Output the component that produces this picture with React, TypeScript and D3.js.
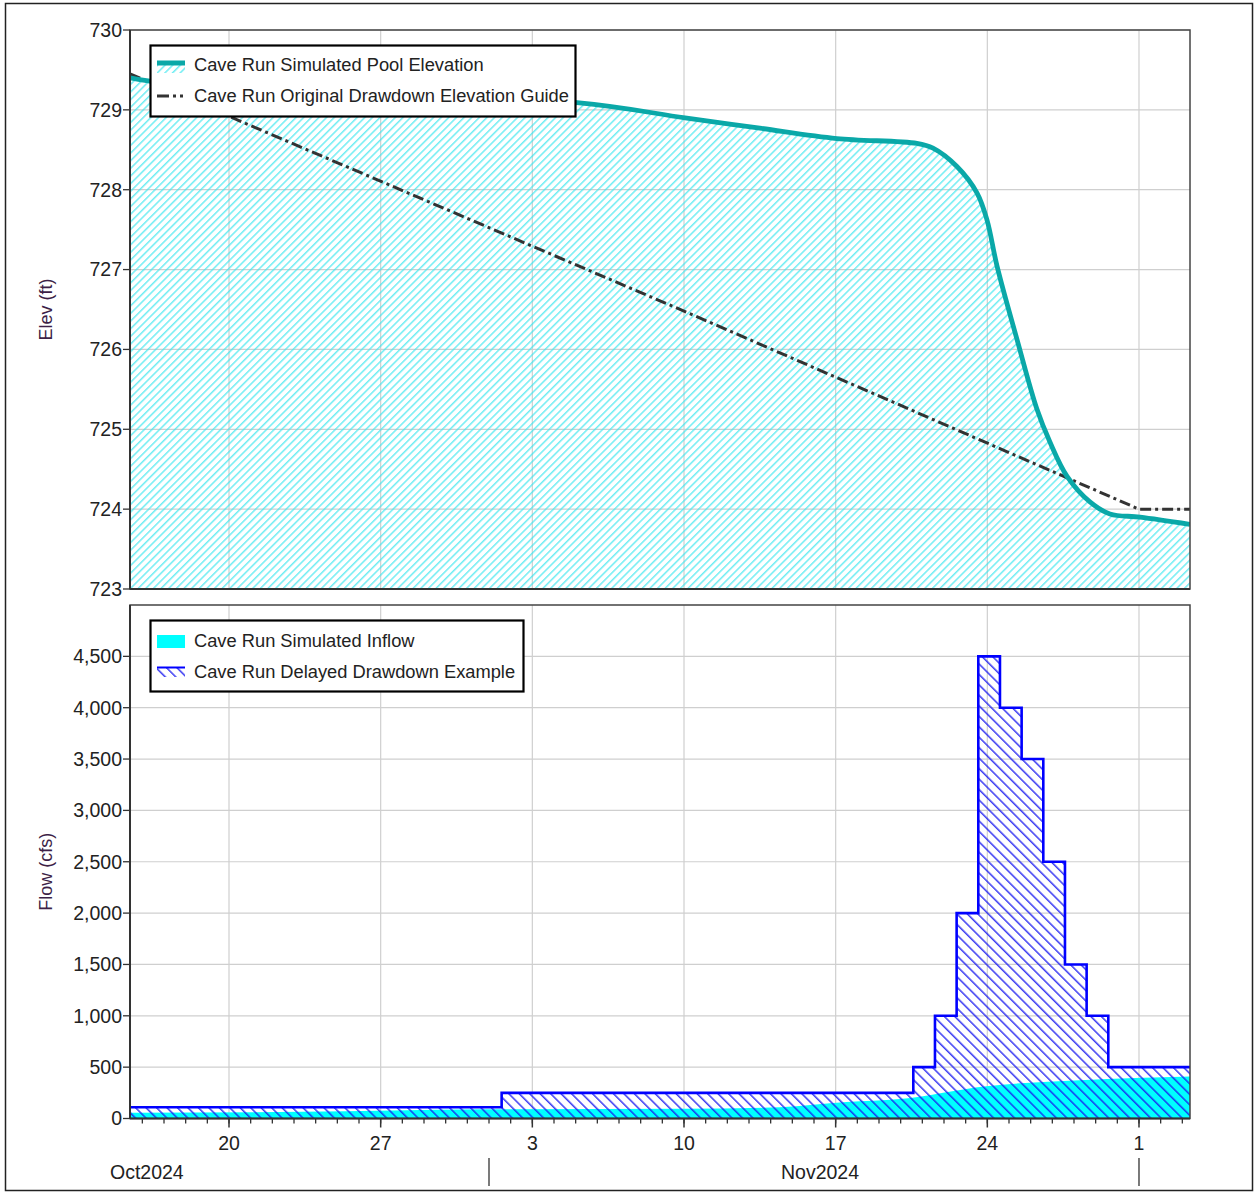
import React from 'react';
import * as d3 from 'd3';

const parse = d3.timeParse('%Y-%m-%dT%H:%M');

const xDomainDates = ['2024-10-15T10:20', '2024-12-03T08:30'];

const poolDates = [
  '2024-10-15T10:20', '2024-10-16T08:30', '2024-11-05T01:30', '2024-11-10T01:10',
  '2024-11-13T12:00', '2024-11-17T01:30', '2024-11-20T18:00', '2024-11-21T11:50',
  '2024-11-22T14:20', '2024-11-23T12:30', '2024-11-23T23:40', '2024-11-24T10:50',
  '2024-11-25T09:00', '2024-11-26T07:00', '2024-11-26T21:20', '2024-11-27T16:20',
  '2024-11-28T17:40', '2024-11-29T15:50', '2024-12-01T01:10', '2024-12-03T08:30',
];
const poolElev = [
  729.40, 729.36, 729.09, 728.90,
  728.77, 728.64, 728.58, 728.52,
  728.29, 727.96, 727.62, 727.04,
  726.12, 725.25, 724.84, 724.41,
  724.09, 723.94, 723.90, 723.81,
];

const guideDates = ['2024-10-15T10:20', '2024-11-10T00:00', '2024-12-01T00:00', '2024-12-03T08:30'];
const guideElev = [729.45, 726.48, 724.0, 724.0];

const inflowDates = [
  '2024-10-15T10:20', '2024-10-23T08:00', '2024-10-31T14:00', '2024-11-09T21:00',
  '2024-11-14T10:00', '2024-11-17T12:00', '2024-11-19T23:00', '2024-11-23T23:00',
  '2024-11-28T06:00', '2024-12-03T08:30',
];
const inflowValues = [55, 65, 90, 95, 110, 160, 190, 315, 373, 410];

const drawdownDates = [
  '2024-10-15T10:20', '2024-11-01T14:00', '2024-11-20T14:00', '2024-11-21T14:00',
  '2024-11-22T14:00', '2024-11-23T14:00', '2024-11-24T14:00', '2024-11-25T14:00',
  '2024-11-26T14:00', '2024-11-27T14:00', '2024-11-28T14:00', '2024-11-29T14:00',
  '2024-12-03T08:30',
];
const drawdownValues = [110, 250, 500, 1000, 2000, 4500, 4000, 3500, 2500, 1500, 1000, 500, 500];

const elevTicks = [723, 724, 725, 726, 727, 728, 729, 730];
const flowTicks = [0, 500, 1000, 1500, 2000, 2500, 3000, 3500, 4000, 4500];
const dayLabelDates = ['2024-10-20T00:00', '2024-10-27T00:00', '2024-11-03T00:00', '2024-11-10T00:00', '2024-11-17T00:00', '2024-11-24T00:00', '2024-12-01T00:00'];
const dayLabels = ['20', '27', '3', '10', '17', '24', '1'];
const monthBoundaryDates = ['2024-11-01T00:00', '2024-12-01T00:00'];
const monthLabels = ['Oct2024', 'Nov2024'];

const FONT = '"Liberation Sans", Arial, sans-serif';
const L = 130, R = 1190;
const T1 = 30, B1 = 589;
const T2 = 605, B2 = 1118.5;

type P = [Date, number];

export default function App() {
  const x = d3.scaleTime().domain(xDomainDates.map((d) => parse(d)!)).range([L, R]);
  const yE = d3.scaleLinear().domain([723, 730]).range([B1, T1]);
  const yF = d3.scaleLinear().domain([0, 5000]).range([B2, T2]);

  const pool: P[] = poolDates.map((d, i) => [parse(d)!, poolElev[i]]);
  const guide: P[] = guideDates.map((d, i) => [parse(d)!, guideElev[i]]);
  const inflow: P[] = inflowDates.map((d, i) => [parse(d)!, inflowValues[i]]);
  const dd: P[] = drawdownDates.map((d, i) => [parse(d)!, drawdownValues[i]]);

  const curve = d3.curveCatmullRom.alpha(0.5);
  const poolLine = d3.line<P>().x((d) => x(d[0])).y((d) => yE(d[1])).curve(curve);
  const poolArea = d3.area<P>().x((d) => x(d[0])).y0(B1).y1((d) => yE(d[1])).curve(curve);
  const guideLine = d3.line<P>().x((d) => x(d[0])).y((d) => yE(d[1]));
  const inflowArea = d3.area<P>().x((d) => x(d[0])).y0(yF(0)).y1((d) => yF(d[1])).curve(d3.curveMonotoneX);
  const ddArea = d3.area<P>().x((d) => x(d[0])).y0(yF(0)).y1((d) => yF(d[1])).curve(d3.curveStepAfter);
  const ddLine = d3.line<P>().x((d) => x(d[0])).y((d) => yF(d[1])).curve(d3.curveStepAfter);

  const [x0, x1] = x.domain();
  const minorDays = d3.timeDay.range(d3.timeDay.ceil(x0), x1);
  const majorDates = dayLabelDates.map((d) => parse(d)!);
  const monthBounds = monthBoundaryDates.map((d) => parse(d)!);
  const fmt = d3.format(',');
  const grid = '#cfcfcf';

  return (
    <svg width={1255} height={1193} style={{ position: 'absolute', left: 0, top: 0, background: '#fff' }} fontFamily={FONT}>
      <defs>
        <pattern id="hatchCyan" patternUnits="userSpaceOnUse" width={5.4} height={5.4} patternTransform="rotate(45)">
          <line x1={0.8} y1={0} x2={0.8} y2={5.4} stroke="#3ae6ee" strokeWidth={1.1} />
        </pattern>
        <pattern id="hatchBlue" patternUnits="userSpaceOnUse" width={7.4} height={7.4} patternTransform="rotate(-45)">
          <line x1={0.8} y1={0} x2={0.8} y2={7.4} stroke="#1a1af0" strokeWidth={1.3} />
        </pattern>
        <clipPath id="clipTop"><rect x={L} y={T1} width={R - L} height={B1 - T1} /></clipPath>
        <clipPath id="clipBot"><rect x={L} y={T2} width={R - L} height={B2 - T2} /></clipPath>
      </defs>
      <rect x={5.5} y={3.5} width={1247} height={1187} fill="#fff" stroke="#222" strokeWidth={1.5} />

      {/* ===== Top chart ===== */}
      <g>
        {elevTicks.map((t) => (
          <line key={'ge' + t} x1={L} x2={R} y1={yE(t)} y2={yE(t)} stroke={grid} strokeWidth={1.2} />
        ))}
        {majorDates.map((d, i) => (
          <line key={'gv1' + i} x1={x(d)} x2={x(d)} y1={T1} y2={B1} stroke={grid} strokeWidth={1.2} />
        ))}
        <g clipPath="url(#clipTop)">
          <path d={poolArea(pool)!} fill="url(#hatchCyan)" />
          <path d={guideLine(guide)!} fill="none" stroke="#333" strokeWidth={3} strokeDasharray="11,4,3,4" />
          <path d={poolLine(pool)!} fill="none" stroke="#0aa8a8" strokeWidth={4.8} strokeLinejoin="round" />
        </g>
        <rect x={L} y={T1} width={R - L} height={B1 - T1} fill="none" stroke="#444" strokeWidth={1.5} />
        <line x1={L} x2={L} y1={T1} y2={B1} stroke="#333" strokeWidth={2} />
        <line x1={L} x2={R} y1={B1} y2={B1} stroke="#333" strokeWidth={2} />
        {elevTicks.map((t) => (
          <g key={'te' + t}>
            <line x1={L - 7} x2={L} y1={yE(t)} y2={yE(t)} stroke="#333" strokeWidth={1.3} />
            <text x={L - 8} y={yE(t)} dy="0.35em" textAnchor="end" fontSize={19.5} fill="#222">{t}</text>
          </g>
        ))}
        <text transform={`translate(52,${(T1 + B1) / 2}) rotate(-90)`} textAnchor="middle" fontSize={18} fill="#3d1f47">Elev (ft)</text>

        {/* legend */}
        <rect x={150.5} y={45.5} width={425} height={71} fill="#fff" stroke="#000" strokeWidth={2.2} />
        <rect x={157} y={64} width={28} height={9} fill="url(#hatchCyan)" />
        <line x1={157} x2={185} y1={63} y2={63} stroke="#0aa8a8" strokeWidth={5} />
        <text x={194} y={65} dy="0.35em" fontSize={18.3} fill="#222">Cave Run Simulated Pool Elevation</text>
        <line x1={157} x2={185} y1={96} y2={96} stroke="#333" strokeWidth={3} strokeDasharray="12,4,3,4,3,4" />
        <text x={194} y={96} dy="0.35em" fontSize={18.3} fill="#222">Cave Run Original Drawdown Elevation Guide</text>
      </g>

      {/* ===== Bottom chart ===== */}
      <g>
        {flowTicks.map((t) => (
          <line key={'gf' + t} x1={L} x2={R} y1={yF(t)} y2={yF(t)} stroke={grid} strokeWidth={1.2} />
        ))}
        {majorDates.map((d, i) => (
          <line key={'gv2' + i} x1={x(d)} x2={x(d)} y1={T2} y2={B2} stroke={grid} strokeWidth={1.2} />
        ))}
        <g clipPath="url(#clipBot)">
          <path d={inflowArea(inflow)!} fill="#00ffff" />
          <path d={ddArea(dd)!} fill="url(#hatchBlue)" />
          <path d={ddLine(dd)!} fill="none" stroke="#0000ff" strokeWidth={2.6} />
        </g>
        <rect x={L} y={T2} width={R - L} height={B2 - T2} fill="none" stroke="#444" strokeWidth={1.5} />
        <line x1={L} x2={L} y1={T2} y2={B2} stroke="#333" strokeWidth={2} />
        <line x1={L} x2={R} y1={B2} y2={B2} stroke="#333" strokeWidth={2} />
        {flowTicks.map((t) => (
          <g key={'tf' + t}>
            <line x1={L - 7} x2={L} y1={yF(t)} y2={yF(t)} stroke="#333" strokeWidth={1.3} />
            <text x={L - 8} y={yF(t)} dy="0.35em" textAnchor="end" fontSize={19.5} fill="#222">{fmt(t)}</text>
          </g>
        ))}
        <text transform={`translate(52,${(T2 + B2) / 2 + 10}) rotate(-90)`} textAnchor="middle" fontSize={18} fill="#3d1f47">Flow (cfs)</text>

        {/* x axis ticks */}
        {minorDays.map((d, i) => (
          <line key={'mt' + i} x1={x(d)} x2={x(d)} y1={B2} y2={B2 + 5} stroke="#333" strokeWidth={1.3} />
        ))}
        {majorDates.map((d, i) => (
          <g key={'Mt' + i}>
            <line x1={x(d)} x2={x(d)} y1={B2} y2={B2 + 9} stroke="#333" strokeWidth={1.5} />
            <text x={x(d)} y={1143} dy="0.35em" textAnchor="middle" fontSize={19.5} fill="#222">{dayLabels[i]}</text>
          </g>
        ))}
        {monthBounds.map((d, i) => (
          <line key={'mb' + i} x1={x(d)} x2={x(d)} y1={1158} y2={1186} stroke="#333" strokeWidth={1.3} />
        ))}
        <text x={x(x0) - 20} y={1172} dy="0.35em" textAnchor="start" fontSize={19.5} fill="#222">{monthLabels[0]}</text>
        <text x={(x(monthBounds[0]) + x(monthBounds[1])) / 2 + 6} y={1172} dy="0.35em" textAnchor="middle" fontSize={19.5} fill="#222">{monthLabels[1]}</text>

        {/* legend */}
        <rect x={150.5} y={620.5} width={373} height={71} fill="#fff" stroke="#000" strokeWidth={2.2} />
        <rect x={157} y={635} width={28} height={13} fill="#00ffff" />
        <text x={194} y={641} dy="0.35em" fontSize={18.3} fill="#222">Cave Run Simulated Inflow</text>
        <rect x={157} y={668} width={28} height={9} fill="url(#hatchBlue)" />
        <line x1={157} x2={185} y1={667.5} y2={667.5} stroke="#0000ff" strokeWidth={2} />
        <text x={194} y={672} dy="0.35em" fontSize={18.3} fill="#222">Cave Run Delayed Drawdown Example</text>
      </g>
    </svg>
  );
}
